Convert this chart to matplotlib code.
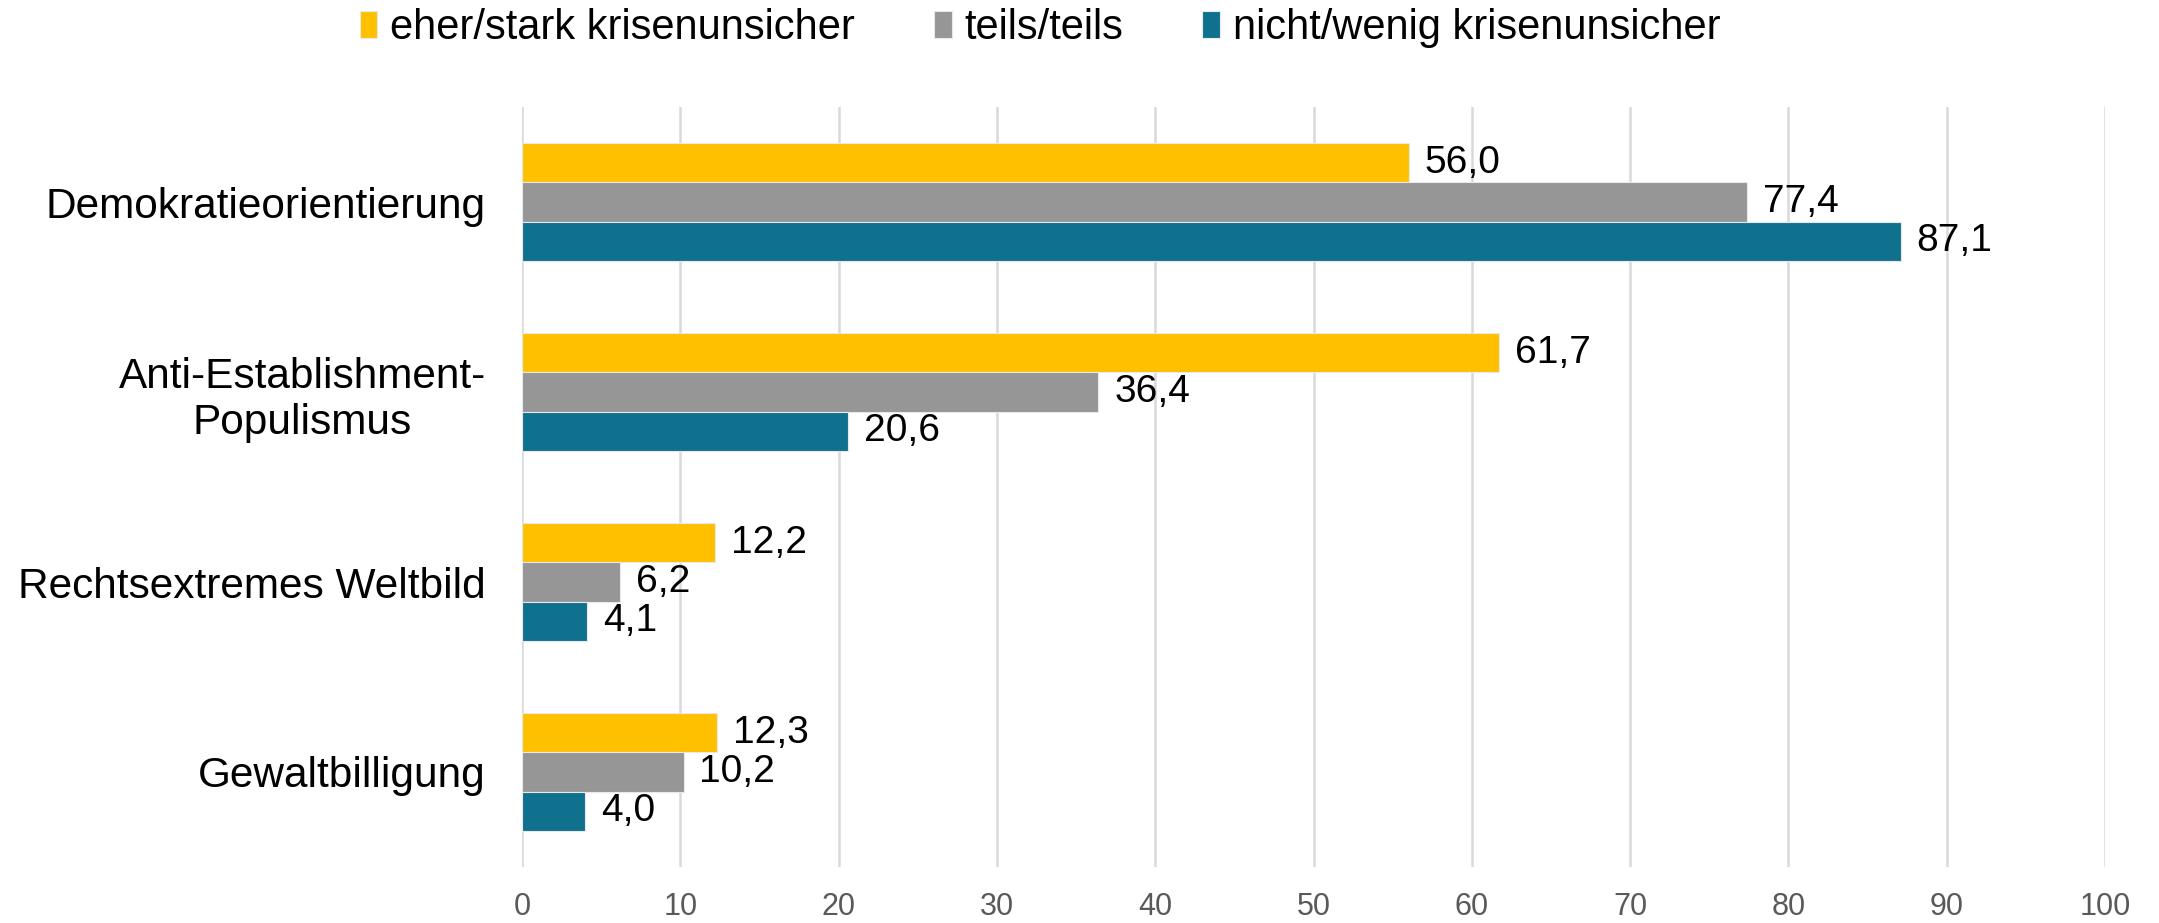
import numpy as np
import matplotlib.pyplot as plt

plt.rcParams['font.family'] = ['Liberation Sans', 'DejaVu Sans']

categories = ["Demokratieorientierung", "Anti-Establishment-\nPopulismus",
              "Rechtsextremes Weltbild", "Gewaltbilligung"]
series = ["eher/stark krisenunsicher", "teils/teils", "nicht/wenig krisenunsicher"]
stark = [56.0, 61.7, 12.2, 12.3]
teils = [77.4, 36.4, 6.2, 10.2]
wenig = [87.1, 20.6, 4.1, 4.0]
colors = ["#FFC000", "#969696", "#10718F"]

fig = plt.figure(figsize=(21.59, 9.23), dpi=100)
ax = fig.add_axes([0.2418, 0.0607, 0.7332, 0.8233])

y = np.arange(len(categories))
h = 0.207
for k, (vals, name, col) in enumerate(zip([stark, teils, wenig], series, colors)):
    pos = y + (k - 1) * h
    ax.barh(pos, vals, height=h, color=col, edgecolor='#E8E8E8', linewidth=0.8,
            label=name, zorder=3)
    for p, v in zip(pos, vals):
        ax.text(v + 1.0, p, f"{v:.1f}".replace('.', ','), va='center', ha='left',
                fontsize=28, color='black', zorder=4)

ax.set_xlim(0, 100)
ax.set_ylim(3.5, -0.5)
ax.set_xticks(np.arange(0, 101, 10))
ax.set_yticks(y)
ax.set_yticklabels(categories, fontsize=30.5)
for lbl in ax.get_yticklabels():
    lbl.set_horizontalalignment('right')
    lbl.set_multialignment('center')
ax.tick_params(axis='y', length=0, pad=26)
ax.tick_params(axis='x', length=0, pad=18, labelsize=22, labelcolor='#595959')
ax.grid(axis='x', color='#D9D9D9', linewidth=1.8, zorder=0)
for s in ax.spines.values():
    s.set_visible(False)

fig.legend(loc='upper center', bbox_to_anchor=(0.4817, 1.018), ncol=3, frameon=False,
           fontsize=30, handlelength=0.43, handleheight=0.62, handletextpad=0.3,
           columnspacing=1.9, borderpad=0.1)

fig.savefig("out.png", dpi=100)
